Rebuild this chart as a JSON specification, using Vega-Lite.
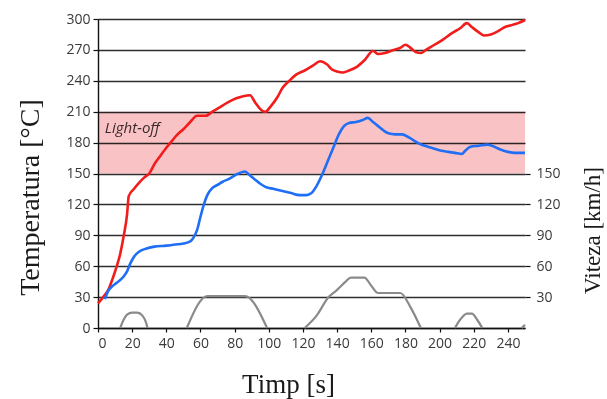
{
  "$schema": "https://vega.github.io/schema/vega-lite/v6.json",
  "width": 427,
  "height": 309,
  "autosize": {"type": "none"},
  "padding": {"left": 98, "top": 19, "right": 82, "bottom": 71},
  "background": "white",
  "config": {
    "view": {"stroke": null},
    "axis": {
      "labelFont": "Open Sans",
      "labelFontSize": 14,
      "labelColor": "#3a3a3a",
      "titleFont": "Liberation Serif",
      "titleFontWeight": "normal",
      "titleColor": "#1a1a1a",
      "domainColor": "#111",
      "domainWidth": 1.4,
      "tickColor": "#111",
      "tickWidth": 1.2
    },
    "axisLeft": {
      "tickSize": 5,
      "labelPadding": 3,
      "titleFontSize": 28,
      "titleX": -68,
      "titleY": 178,
      "titleAngle": 270,
      "titleAlign": "center",
      "titleBaseline": "middle",
      "gridColor": "#2e2e2e",
      "gridWidth": 1.4,
      "gridOpacity": 1
    },
    "axisRight": {
      "tickSize": 5,
      "labelPadding": 6,
      "titleFontSize": 23,
      "titleX": 67,
      "titleY": 211,
      "titleAngle": 270,
      "titleAlign": "center",
      "titleBaseline": "middle"
    },
    "axisBottom": {
      "tickSize": 4,
      "labelPadding": 4,
      "titleFontSize": 27,
      "titleX": 190,
      "titleY": 64,
      "titleAlign": "center",
      "titleBaseline": "alphabetic"
    }
  },
  "datasets": {
    "band": [{"start": 0, "end": 250, "lo": 150, "hi": 210, "label": "Light-off", "lx": 4, "ly": 194}],
    "temp": [
      {"s": "a", "t": 0, "T": 24}, {"s": "a", "t": 3, "T": 30}, {"s": "a", "t": 6, "T": 37}, {"s": "a", "t": 9, "T": 50},
      {"s": "a", "t": 11, "T": 60}, {"s": "a", "t": 13, "T": 72}, {"s": "a", "t": 15, "T": 89}, {"s": "a", "t": 17, "T": 110},
      {"s": "a", "t": 18, "T": 128}, {"s": "a", "t": 21, "T": 135}, {"s": "a", "t": 24, "T": 141}, {"s": "a", "t": 27, "T": 146},
      {"s": "a", "t": 30, "T": 150}, {"s": "a", "t": 33, "T": 159}, {"s": "a", "t": 36, "T": 166}, {"s": "a", "t": 40, "T": 175},
      {"s": "a", "t": 43, "T": 181}, {"s": "a", "t": 46, "T": 187}, {"s": "a", "t": 50, "T": 193}, {"s": "a", "t": 54, "T": 200},
      {"s": "a", "t": 58, "T": 206}, {"s": "a", "t": 63, "T": 206}, {"s": "a", "t": 67, "T": 210}, {"s": "a", "t": 71, "T": 214},
      {"s": "a", "t": 76, "T": 219}, {"s": "a", "t": 81, "T": 223}, {"s": "a", "t": 85, "T": 225}, {"s": "a", "t": 89, "T": 226},
      {"s": "a", "t": 92, "T": 219}, {"s": "a", "t": 96, "T": 211}, {"s": "a", "t": 98, "T": 210}, {"s": "a", "t": 101, "T": 215},
      {"s": "a", "t": 105, "T": 224}, {"s": "a", "t": 108, "T": 233}, {"s": "a", "t": 112, "T": 240}, {"s": "a", "t": 116, "T": 246},
      {"s": "a", "t": 121, "T": 250}, {"s": "a", "t": 126, "T": 255}, {"s": "a", "t": 130, "T": 259}, {"s": "a", "t": 134, "T": 256},
      {"s": "a", "t": 137, "T": 251}, {"s": "a", "t": 140, "T": 249}, {"s": "a", "t": 143, "T": 248}, {"s": "a", "t": 147, "T": 250},
      {"s": "a", "t": 151, "T": 253}, {"s": "a", "t": 156, "T": 260}, {"s": "a", "t": 161, "T": 269}, {"s": "a", "t": 164, "T": 266},
      {"s": "a", "t": 168, "T": 267}, {"s": "a", "t": 173, "T": 270}, {"s": "a", "t": 177, "T": 272}, {"s": "a", "t": 180, "T": 275},
      {"s": "a", "t": 183, "T": 272}, {"s": "a", "t": 186, "T": 268}, {"s": "a", "t": 189, "T": 267}, {"s": "a", "t": 192, "T": 270},
      {"s": "a", "t": 197, "T": 275}, {"s": "a", "t": 202, "T": 280}, {"s": "a", "t": 207, "T": 286}, {"s": "a", "t": 212, "T": 291},
      {"s": "a", "t": 216, "T": 296}, {"s": "a", "t": 219, "T": 292}, {"s": "a", "t": 223, "T": 287}, {"s": "a", "t": 226, "T": 284},
      {"s": "a", "t": 230, "T": 285}, {"s": "a", "t": 234, "T": 288}, {"s": "a", "t": 238, "T": 292}, {"s": "a", "t": 242, "T": 294},
      {"s": "a", "t": 246, "T": 296}, {"s": "a", "t": 250, "T": 299},
      {"s": "b", "t": 4, "T": 28}, {"s": "b", "t": 6, "T": 36}, {"s": "b", "t": 8, "T": 40}, {"s": "b", "t": 11, "T": 44},
      {"s": "b", "t": 15, "T": 50}, {"s": "b", "t": 17, "T": 55}, {"s": "b", "t": 19, "T": 63}, {"s": "b", "t": 21, "T": 69},
      {"s": "b", "t": 24, "T": 74}, {"s": "b", "t": 28, "T": 77}, {"s": "b", "t": 33, "T": 79}, {"s": "b", "t": 40, "T": 80},
      {"s": "b", "t": 45, "T": 81}, {"s": "b", "t": 50, "T": 82}, {"s": "b", "t": 54, "T": 84}, {"s": "b", "t": 56, "T": 88},
      {"s": "b", "t": 58, "T": 95}, {"s": "b", "t": 60, "T": 108}, {"s": "b", "t": 62, "T": 120}, {"s": "b", "t": 64, "T": 129},
      {"s": "b", "t": 67, "T": 136}, {"s": "b", "t": 70, "T": 139}, {"s": "b", "t": 73, "T": 142}, {"s": "b", "t": 77, "T": 145},
      {"s": "b", "t": 81, "T": 149}, {"s": "b", "t": 86, "T": 152}, {"s": "b", "t": 89, "T": 148}, {"s": "b", "t": 92, "T": 144},
      {"s": "b", "t": 95, "T": 140}, {"s": "b", "t": 98, "T": 137}, {"s": "b", "t": 103, "T": 135}, {"s": "b", "t": 108, "T": 133},
      {"s": "b", "t": 113, "T": 131}, {"s": "b", "t": 118, "T": 129}, {"s": "b", "t": 122, "T": 129}, {"s": "b", "t": 125, "T": 131},
      {"s": "b", "t": 128, "T": 138}, {"s": "b", "t": 131, "T": 148}, {"s": "b", "t": 134, "T": 160}, {"s": "b", "t": 138, "T": 176},
      {"s": "b", "t": 141, "T": 188}, {"s": "b", "t": 144, "T": 196}, {"s": "b", "t": 147, "T": 199}, {"s": "b", "t": 151, "T": 200},
      {"s": "b", "t": 155, "T": 202}, {"s": "b", "t": 158, "T": 204}, {"s": "b", "t": 161, "T": 200}, {"s": "b", "t": 164, "T": 196},
      {"s": "b", "t": 167, "T": 192}, {"s": "b", "t": 170, "T": 189}, {"s": "b", "t": 174, "T": 188}, {"s": "b", "t": 178, "T": 188},
      {"s": "b", "t": 182, "T": 185}, {"s": "b", "t": 185, "T": 182}, {"s": "b", "t": 188, "T": 179}, {"s": "b", "t": 193, "T": 176},
      {"s": "b", "t": 197, "T": 174}, {"s": "b", "t": 201, "T": 172}, {"s": "b", "t": 205, "T": 171}, {"s": "b", "t": 209, "T": 170},
      {"s": "b", "t": 213, "T": 169}, {"s": "b", "t": 215, "T": 172}, {"s": "b", "t": 218, "T": 176}, {"s": "b", "t": 223, "T": 177},
      {"s": "b", "t": 228, "T": 178}, {"s": "b", "t": 232, "T": 176}, {"s": "b", "t": 236, "T": 173}, {"s": "b", "t": 240, "T": 171},
      {"s": "b", "t": 244, "T": 170}, {"s": "b", "t": 250, "T": 170}
    ],
    "speed": [
      {"seg": 1, "t": 13, "v": 0}, {"seg": 1, "t": 15, "v": 8}, {"seg": 1, "t": 17, "v": 13}, {"seg": 1, "t": 20, "v": 15},
      {"seg": 1, "t": 23, "v": 15}, {"seg": 1, "t": 26, "v": 12}, {"seg": 1, "t": 28, "v": 6}, {"seg": 1, "t": 29, "v": 0},
      {"seg": 2, "t": 52, "v": 0}, {"seg": 2, "t": 64, "v": 31}, {"seg": 2, "t": 86, "v": 31}, {"seg": 2, "t": 99, "v": 0},
      {"seg": 3, "t": 121, "v": 0}, {"seg": 3, "t": 128, "v": 12}, {"seg": 3, "t": 135, "v": 30}, {"seg": 3, "t": 140, "v": 37},
      {"seg": 3, "t": 145, "v": 45}, {"seg": 3, "t": 148, "v": 49}, {"seg": 3, "t": 156, "v": 49}, {"seg": 3, "t": 160, "v": 41},
      {"seg": 3, "t": 164, "v": 34}, {"seg": 3, "t": 177, "v": 34}, {"seg": 3, "t": 183, "v": 20}, {"seg": 3, "t": 189, "v": 0},
      {"seg": 4, "t": 209, "v": 0}, {"seg": 4, "t": 212, "v": 8}, {"seg": 4, "t": 216, "v": 14}, {"seg": 4, "t": 219, "v": 14},
      {"seg": 4, "t": 222, "v": 8}, {"seg": 4, "t": 225, "v": 0},
      {"seg": 5, "t": 248, "v": 0}, {"seg": 5, "t": 250, "v": 3}
    ]
  },
  "layer": [
    {
      "layer": [
        {
          "data": {"name": "band"},
          "mark": {"type": "rect", "fill": "#f9c2c5", "blend": "multiply"},
          "encoding": {
            "x": {"field": "start", "type": "quantitative", "scale": {"domain": [0, 250], "nice": false, "zero": false},
                  "axis": {"values": [0, 20, 40, 60, 80, 100, 120, 140, 160, 180, 200, 220, 240], "grid": false, "title": "Timp [s]"}},
            "x2": {"field": "end"},
            "y": {"field": "lo", "type": "quantitative", "scale": {"domain": [0, 300], "nice": false},
                  "axis": {"values": [0, 30, 60, 90, 120, 150, 180, 210, 240, 270, 300], "grid": true, "title": "Temperatura [°C]"}},
            "y2": {"field": "hi"}
          }
        },
        {
          "data": {"name": "band"},
          "mark": {"type": "text", "font": "Open Sans", "fontStyle": "italic", "fontSize": 15, "color": "#3a2a2a", "align": "left", "baseline": "middle"},
          "encoding": {
            "x": {"field": "lx", "type": "quantitative",
                  "axis": {"values": [0, 20, 40, 60, 80, 100, 120, 140, 160, 180, 200, 220, 240], "grid": false, "title": "Timp [s]"}},
            "y": {"field": "ly", "type": "quantitative",
                  "axis": {"values": [0, 30, 60, 90, 120, 150, 180, 210, 240, 270, 300], "grid": true, "title": "Temperatura [°C]"}},
            "text": {"field": "label"}
          }
        },
        {
          "data": {"name": "temp"},
          "mark": {"type": "line", "strokeWidth": 2.6, "interpolate": "monotone"},
          "encoding": {
            "x": {"field": "t", "type": "quantitative",
                  "axis": {"values": [0, 20, 40, 60, 80, 100, 120, 140, 160, 180, 200, 220, 240], "grid": false, "title": "Timp [s]"}},
            "y": {"field": "T", "type": "quantitative",
                  "axis": {"values": [0, 30, 60, 90, 120, 150, 180, 210, 240, 270, 300], "grid": true, "title": "Temperatura [°C]"}},
            "color": {"field": "s", "type": "nominal", "scale": {"domain": ["a", "b"], "range": ["#f21c1c", "#1f6ef5"]}, "legend": null}
          }
        }
      ]
    },
    {
      "layer": [
        {
          "data": {"name": "speed"},
          "mark": {"type": "line", "strokeWidth": 2.2, "color": "#8a8a8a", "interpolate": "monotone"},
          "encoding": {
            "x": {"field": "t", "type": "quantitative",
                  "axis": {"values": [0, 20, 40, 60, 80, 100, 120, 140, 160, 180, 200, 220, 240], "grid": false, "title": "Timp [s]"}},
            "y": {"field": "v", "type": "quantitative", "scale": {"domain": [0, 300], "nice": false},
                  "axis": {"orient": "right", "values": [30, 60, 90, 120, 150], "domain": false, "grid": false, "title": "Viteza [km/h]"}},
            "detail": {"field": "seg", "type": "nominal"}
          }
        },
        {
          "mark": {"type": "rule", "color": "#111", "strokeWidth": 1.4},
          "encoding": {
            "x": {"datum": 250, "type": "quantitative",
                  "axis": {"values": [0, 20, 40, 60, 80, 100, 120, 140, 160, 180, 200, 220, 240], "grid": false, "title": "Timp [s]"}},
            "y": {"datum": 0, "type": "quantitative",
                  "axis": {"orient": "right", "values": [30, 60, 90, 120, 150], "domain": false, "grid": false, "title": "Viteza [km/h]"}},
            "y2": {"datum": 161}
          }
        }
      ]
    }
  ],
  "resolve": {"scale": {"y": "independent"}}
}
